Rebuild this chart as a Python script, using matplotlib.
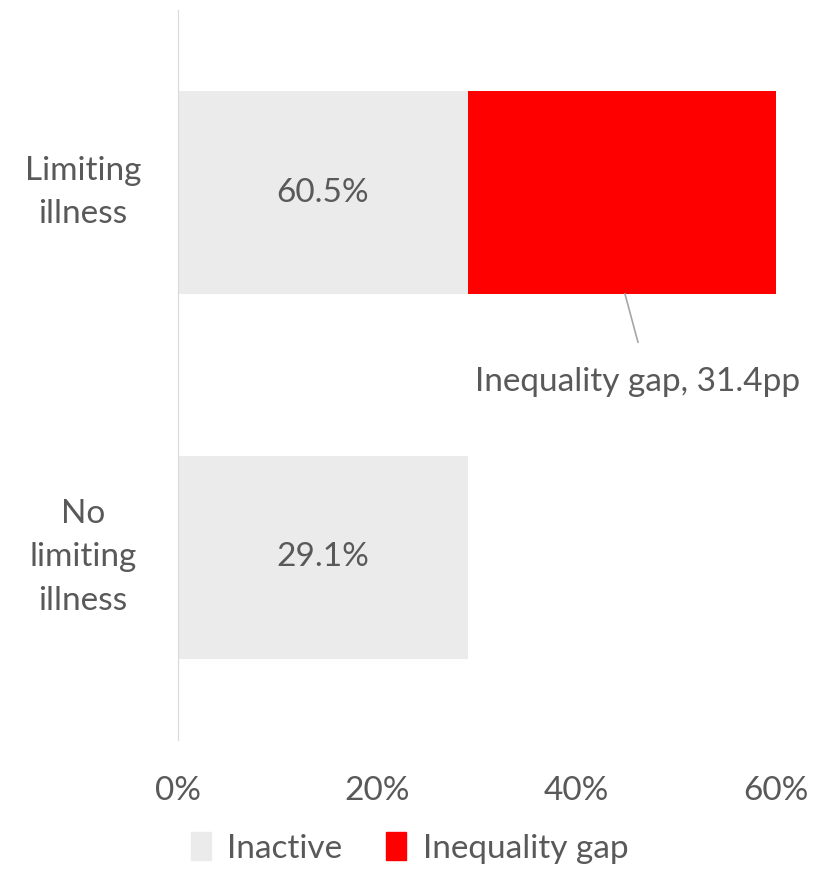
import matplotlib.pyplot as plt
from matplotlib.patches import Patch

categories = ["Limiting\nillness", "No\nlimiting\nillness"]
inactive = [29.1, 29.1]
gap = [31.4, 0.0]
totals = [60.5, 29.1]
gap_label = "Inequality gap, 31.4pp"

grey = "#ebebeb"
red = "#ff0000"
txt = "#595959"
fs = 24

plt.rcParams["font.family"] = ["Lato", "DejaVu Sans"]

fig = plt.figure(figsize=(8.19, 8.72), dpi=100)
ax = fig.add_axes([0.2173, 0.1514, 0.7302, 0.8371])

ypos = [0, 1]
ax.barh(ypos, inactive, height=0.556, color=grey, label="Inactive")
ax.barh(ypos, gap, left=inactive, height=0.556, color=red, label="Inequality gap")

# total label sits in the middle of the grey part
for y, base, tot in zip(ypos, inactive, totals):
    ax.text(base / 2, y, f"{tot:.1f}%", ha="center", va="center",
            fontsize=fs, color=txt)

# leader line + label for the gap
ax.plot([44.85, 46.15], [0.278, 0.41], color="#a6a6a6", lw=1.2)
ax.text(46.15, 0.52, gap_label, ha="center", va="center", fontsize=fs, color=txt)

ax.set_xlim(0, 60)
ax.set_ylim(1.5, -0.5)
ax.set_xticks([0, 20, 40, 60])
ax.set_xticklabels(["0%", "20%", "40%", "60%"])
ax.set_yticks([])
ax.tick_params(length=0, labelsize=fs, colors=txt)
ax.tick_params(axis="x", pad=26)

# category labels, centred to the left of the axis
for y, cat in zip(ypos, categories):
    ax.text(-0.159, y, cat, transform=ax.get_yaxis_transform(), ha="center",
            va="center", fontsize=fs, color=txt, linespacing=1.58)

for s in ["top", "right", "bottom"]:
    ax.spines[s].set_visible(False)
ax.spines["left"].set_color("#d9d9d9")

handles = [Patch(color=grey), Patch(color=red)]
fig.legend(handles, ["Inactive", "Inequality gap"], loc="lower center",
           bbox_to_anchor=(0.5, -0.025), ncol=2, frameon=False, fontsize=fs,
           labelcolor=txt, handlelength=0.6, handleheight=0.9,
           handletextpad=0.5, columnspacing=1.3)

fig.savefig("out.png", dpi=100)
